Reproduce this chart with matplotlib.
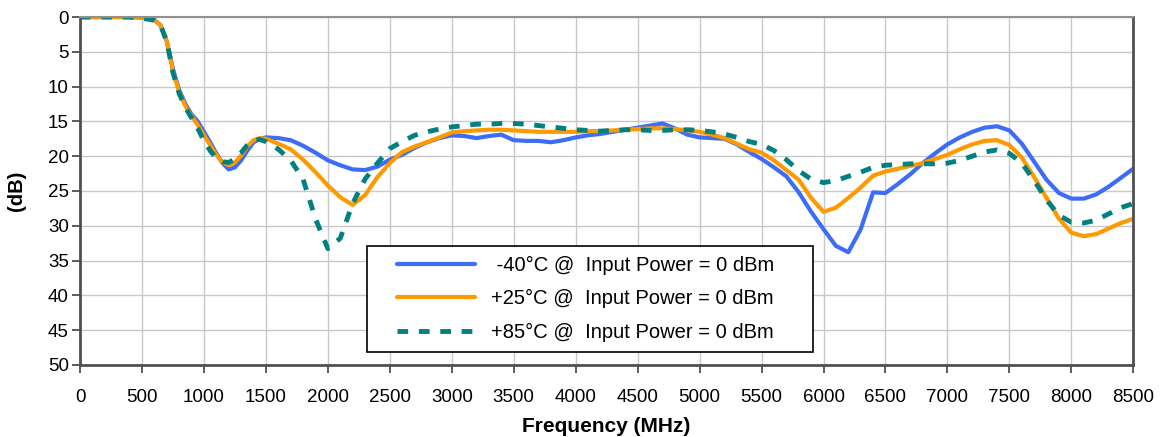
import matplotlib
matplotlib.use("Agg")
import matplotlib.pyplot as plt
from matplotlib.lines import Line2D
from matplotlib.legend_handler import HandlerLine2D

plt.rcParams['font.family'] = ['Liberation Sans', 'DejaVu Sans']

# frecuencias (MHz)
frecuencias = [0, 100, 200, 300, 400, 500, 550, 600, 650, 700, 750, 800, 850, 900,
               950, 1000, 1050, 1100, 1150, 1200, 1250, 1300, 1350, 1400, 1450, 1500] + \
              list(range(1600, 8600, 100))

menos40 = [0, 0, 0, 0, 0, 0.1, 0.2, 0.4, 1.2, 3.5, 7.5, 10.5, 12.5, 14.0, 15.0, 16.5,
           18.0, 19.6, 21.0, 21.9, 21.6, 20.6, 19.2, 18.0, 17.5, 17.3,
           17.4, 17.7, 18.5, 19.5, 20.6, 21.3, 21.9, 22.0, 21.5, 20.5,
           19.8, 18.8, 18.0, 17.4, 17.0, 17.1, 17.4, 17.1, 16.9, 17.7,
           17.8, 17.8, 18.0, 17.7, 17.3, 17.0, 16.8, 16.5, 16.2, 15.9,
           15.6, 15.3, 16.0, 16.9, 17.3, 17.4, 17.5, 18.3, 19.4, 20.4,
           21.6, 22.9, 25.2, 28.0, 30.5, 32.9, 33.8, 30.5, 25.2, 25.3,
           24.0, 22.6, 21.0, 19.6, 18.3, 17.3, 16.5, 15.9, 15.7, 16.3,
           18.2, 20.8, 23.4, 25.3, 26.1, 26.1, 25.5, 24.4, 23.1, 21.8]

mas25 = [0, 0, 0, 0, 0, 0.1, 0.2, 0.4, 1.2, 3.5, 7.8, 10.8, 12.8, 14.2, 15.5, 17.0,
         18.4, 19.8, 20.9, 21.3, 20.9, 19.9, 18.6, 17.7, 17.4, 17.5,
         18.2, 19.0, 20.5, 22.3, 24.2, 25.9, 27.0, 25.6, 23.0, 21.0,
         19.4, 18.6, 18.0, 17.3, 16.6, 16.4, 16.3, 16.2, 16.2, 16.3,
         16.4, 16.5, 16.5, 16.5, 16.5, 16.4, 16.4, 16.3, 16.2, 16.1,
         16.0, 16.0, 16.1, 16.3, 16.5, 16.9, 17.4, 18.2, 19.0, 19.5,
         20.6, 22.0, 23.4, 26.0, 28.0, 27.4, 26.0, 24.5, 22.8, 22.2,
         21.8, 21.4, 21.0, 20.4, 19.8, 19.0, 18.3, 17.8, 17.7, 18.4,
         20.2, 23.0, 26.0, 29.0, 31.0, 31.5, 31.2, 30.4, 29.6, 29.0]

mas85 = [0, 0, 0, 0, 0, 0.2, 0.3, 0.5, 1.2, 3.5, 8.0, 11.0, 13.0, 14.5, 16.0, 17.8,
         19.2, 20.3, 20.8, 20.9, 20.4, 19.5, 18.4, 17.7, 17.6, 17.9,
         19.0, 20.6, 23.3, 29.0, 33.3, 31.8, 26.8, 23.3, 21.0, 18.9,
         17.9, 17.0, 16.5, 16.1, 15.8, 15.6, 15.4, 15.4, 15.3, 15.3,
         15.4, 15.6, 15.8, 16.0, 16.2, 16.3, 16.4, 16.3, 16.2, 16.2,
         16.3, 16.3, 16.2, 16.2, 16.3, 16.5, 16.8, 17.3, 17.9, 18.3,
         19.2, 20.5, 22.1, 23.3, 23.8, 23.5, 22.9, 22.3, 21.6, 21.3,
         21.2, 21.1, 21.1, 21.1, 21.0, 20.6, 20.0, 19.4, 19.1, 19.6,
         21.0, 23.5, 26.3, 28.5, 29.5, 29.6, 29.2, 28.3, 27.4, 26.8]

fig = plt.figure(figsize=(11.6, 4.37), dpi=100)
ax = fig.add_axes([0.069, 0.165, 0.908, 0.796])

ax.plot(frecuencias, menos40, color="#3d6cf7", lw=3, solid_capstyle="round",
        solid_joinstyle="round", label=" -40°C @  Input Power = 0 dBm")
ax.plot(frecuencias, mas25, color="#ff9900", lw=3, solid_capstyle="round",
        solid_joinstyle="round", label="+25°C @  Input Power = 0 dBm")
ax.plot(frecuencias, mas85, color="#008080", lw=3.5, linestyle=(0, (2.2, 2.2)),
        label="+85°C @  Input Power = 0 dBm")

ax.set_xlim(0, 8500)
ax.set_ylim(50, 0)
ax.set_xticks(range(0, 8501, 500))
ax.set_yticks(range(0, 51, 5))
ax.tick_params(labelsize=13.5, length=6, width=1.2, color="#404040")
ax.tick_params(axis="x", pad=11)
ax.tick_params(axis="y", pad=2)
ax.grid(color="#c8c8c8", lw=1)
ax.set_axisbelow(True)
for lado in ["left", "bottom", "right"]:
    ax.spines[lado].set_linewidth(2)
    ax.spines[lado].set_color("#505050")
ax.spines["top"].set_linewidth(1.5)
ax.spines["top"].set_color("#909090")

ax.set_xlabel("Frequency (MHz)", fontsize=15, fontweight="bold", labelpad=8)
ax.set_ylabel("(dB)", fontsize=14.5, fontweight="bold", labelpad=16)

leg = ax.legend(loc="lower left", bbox_to_anchor=(0.272, 0.037, 0.424, 0.3),
                mode="expand", fontsize=14.5,
                frameon=True, fancybox=False, edgecolor="black", framealpha=1,
                handlelength=4.9, handletextpad=0.8, borderpad=0.5,
                labelspacing=0.72, borderaxespad=0,
                handler_map={Line2D: HandlerLine2D(xpad=1.0)})
leg.get_frame().set_linewidth(1.2)

plt.savefig("out.png", dpi=100)
